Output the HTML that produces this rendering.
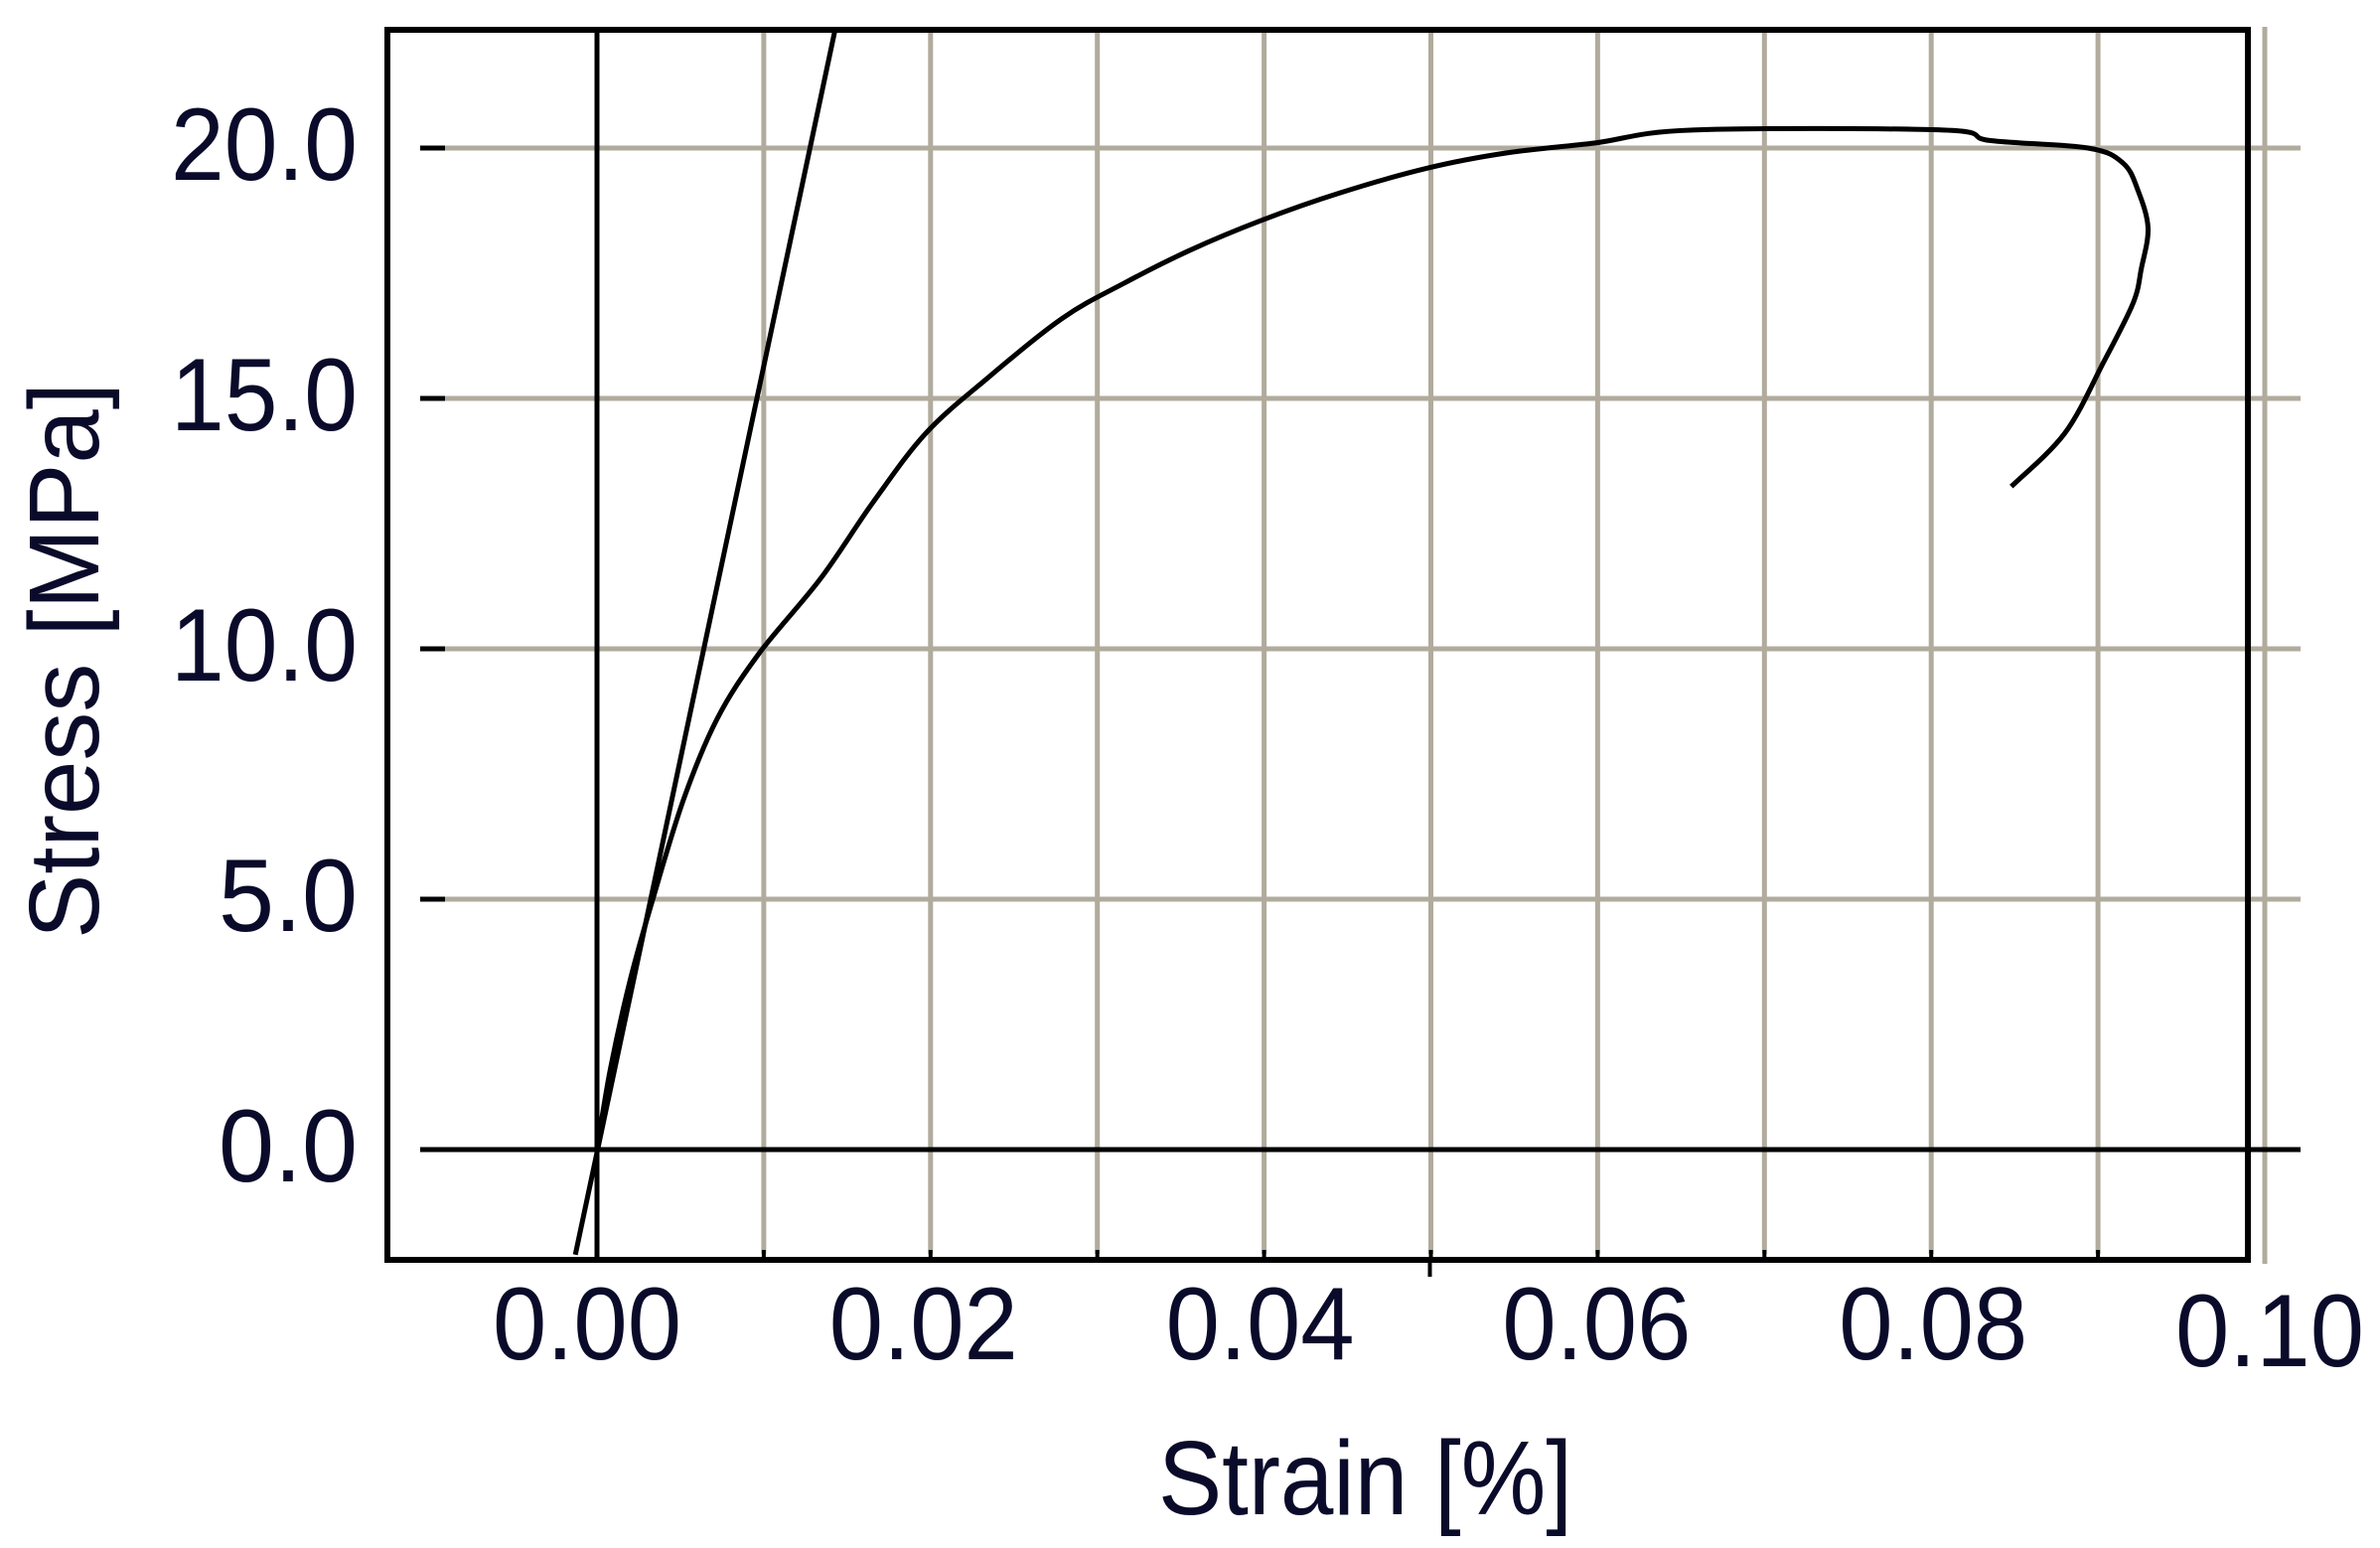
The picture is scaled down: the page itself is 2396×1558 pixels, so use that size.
<!DOCTYPE html>
<html><head><meta charset="utf-8"><style>
html,body{margin:0;padding:0;background:#fff;}
svg{display:block;}
text{font-family:"Liberation Sans",sans-serif;fill:#0a0a2a;}
</style></head><body>
<svg id="chart" width="2396" height="1558" viewBox="0 0 2396 1558" xmlns="http://www.w3.org/2000/svg">
<g id="grid"></g>
<g id="axes"></g>
<g id="series"></g>
<g id="labels"></g>
</svg>
<script>
const xTicks=[0.00,0.02,0.04,0.06,0.08,0.10];
const xTickLabels=["0.00","0.02","0.04","0.06","0.08","0.10"];
const xGrid=[0.01,0.02,0.03,0.04,0.05,0.06,0.07,0.08,0.09,0.10];
const yTicks=[0,5,10,15,20];
const yTickLabels=["0.0","5.0","10.0","15.0","20.0"];
const curveStrain=[0,0.0008,0.002,0.0034,0.0052,0.0072,0.0097,0.0134,0.0165,0.0197,0.0234,0.0279,0.0316,0.0355,0.0398,0.0445,0.0498,0.0545,0.0598,0.0657,0.0807,0.0835,0.0894,0.0915,0.0924,0.093,0.0926,0.0921,0.0903,0.088,0.0848];
const curveStress=[0,1.6,3.4,5.06,7.0,8.6,9.9,11.4,12.9,14.3,15.4,16.6,17.3,17.95,18.55,19.1,19.6,19.9,20.1,20.36,20.36,20.15,20.0,19.7,19.15,18.4,17.6,16.9,15.7,14.3,13.24];
const lineStrain=[-0.0013,0.0143];
const lineStress=[-2.1,22.4];

const NS="http://www.w3.org/2000/svg";
const X=v=>601+(v-0)*16790;
const Y=v=>1157-v*50.4;
function mk(tag,attrs,parent){const e=document.createElementNS(NS,tag);for(const k in attrs)e.setAttribute(k,attrs[k]);parent.appendChild(e);return e;}
const grid=document.getElementById('grid'),axes=document.getElementById('axes'),series=document.getElementById('series'),labels=document.getElementById('labels');
const GC="#b1ab9d";
yTicks.forEach(t=>{
  if(t!==0){const l=mk('line',{x1:448,x2:2316,y1:Y(t),y2:Y(t),stroke:GC,'stroke-width':5},grid);
  
  }
  const tk=mk('line',{x1:423,x2:448,y1:Y(t),y2:Y(t),stroke:'#000','stroke-width':5},axes);
  
  
});
xGrid.forEach(t=>{
  const x=X(t);
  const l=mk('line',{x1:x,x2:x,y1:27,y2:t>0.099?1272:1262,stroke:GC,'stroke-width':5},grid);
  
  
  if(t<0.099){const s=mk('line',{x1:x,x2:x,y1:1258,y2:1270,stroke:'#000','stroke-width':4},axes);
  
  }
});
const fr=mk('rect',{x:390,y:30,width:1873,height:1238,fill:'none',stroke:'#000','stroke-width':6},axes);


const za=mk('line',{x1:425,x2:2316,y1:Y(0),y2:Y(0),stroke:'#000','stroke-width':5},axes);


const ya=mk('line',{x1:X(0),x2:X(0),y1:27,y2:1268,stroke:'#000','stroke-width':5},axes);


const t5=mk('line',{x1:X(0.05)-1,x2:X(0.05)-1,y1:1268,y2:1285,stroke:'#000','stroke-width':4},axes);


// smooth curve (Catmull-Rom)
const P=curveStrain.map((v,i)=>[X(v),Y(curveStress[i])]);
let d='M'+P[0][0].toFixed(1)+' '+P[0][1].toFixed(1);
for(let i=0;i<P.length-1;i++){
  const p0=P[i>0?i-1:i],p1=P[i],p2=P[i+1],p3=P[i+2<P.length?i+2:i+1];
  const c1=[p1[0]+(p2[0]-p0[0])/6,p1[1]+(p2[1]-p0[1])/6];
  const c2=[p2[0]-(p3[0]-p1[0])/6,p2[1]-(p3[1]-p1[1])/6];
  d+=' C'+c1[0].toFixed(1)+' '+c1[1].toFixed(1)+' '+c2[0].toFixed(1)+' '+c2[1].toFixed(1)+' '+p2[0].toFixed(1)+' '+p2[1].toFixed(1);
}
const c=mk('path',{d:d,fill:'none',stroke:'#000','stroke-width':5,'stroke-linejoin':'round'},series);


let d2=lineStrain.map((v,i)=>(i?'L':'M')+X(v).toFixed(1)+' '+Y(lineStress[i]).toFixed(1)).join(' ');
const m=mk('path',{d:d2,fill:'none',stroke:'#000','stroke-width':5},series);


yTicks.forEach((t,i)=>{
  const s=yTickLabels[i];
  const tx=mk('text',{x:360,y:Y(t)+32,'font-size':104,'text-anchor':'end',textLength:s.length===4?188:140,lengthAdjust:'spacingAndGlyphs'},labels);
  tx.textContent=s;
  
  
});
xTicks.forEach((t,i)=>{
  const tx=mk('text',{x:X(t)-10+(i*3),y:i===5?1375:1368,'font-size':104,'text-anchor':'middle',textLength:190,lengthAdjust:'spacingAndGlyphs'},labels);
  tx.textContent=xTickLabels[i];
  
  
});
const xt=mk('text',{x:1166,y:1524,'font-size':106,textLength:417,lengthAdjust:'spacingAndGlyphs'},labels);
xt.textContent='Strain [%]';


const yt=mk('text',{x:0,y:0,'font-size':100,textLength:560,lengthAdjust:'spacingAndGlyphs',transform:'translate(99,945) rotate(-90)'},labels);
yt.textContent='Stress [MPa]';


</script>
</body></html>
